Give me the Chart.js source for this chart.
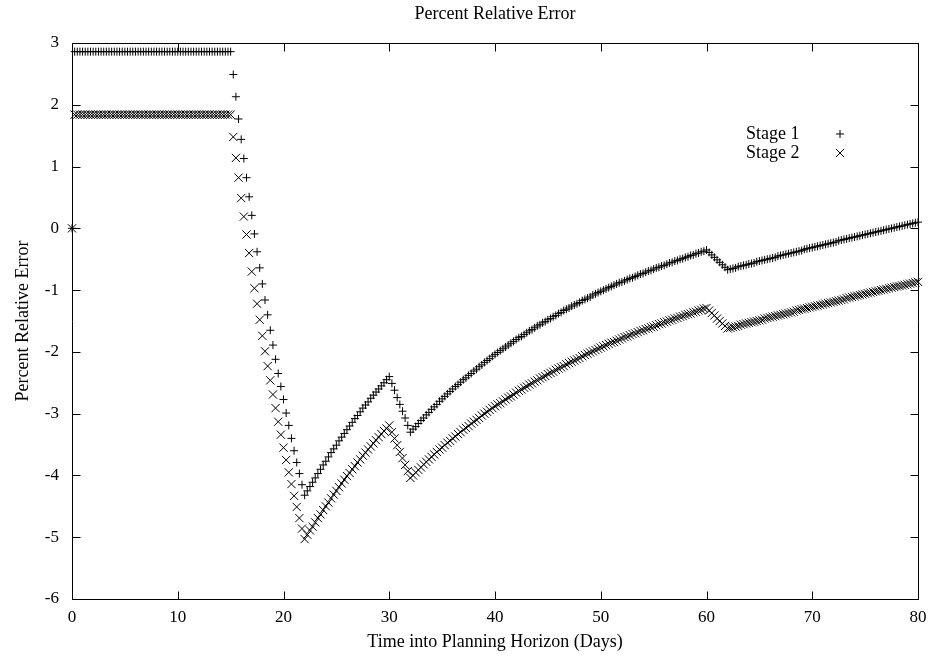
<!DOCTYPE html>
<html>
<head>
<meta charset="utf-8">
<title>Percent Relative Error</title>
<script src="https://cdn.jsdelivr.net/npm/chart.js@4.4.1/dist/chart.umd.min.js"></script>
<style>
    html, body { margin: 0; padding: 0; background: #fff; }
    canvas { display: block; }
</style>
</head>
<body>
<canvas id="chart" width="930" height="656"></canvas>
<script>
// Samples are taken every quarter of a day, from day 0 to day 80.
const stepDays = 0.25;

const seriesLabels = ['Stage 1', 'Stage 2'];
const xTickStep = 10;
const yTickStep = 1;

// Stage 1 (+ markers), percent relative error per sample
const stage1Error = [
    0,
    2.86, 2.86, 2.86, 2.86, 2.86, 2.86, 2.86, 2.86, 2.86, 2.86,
    2.86, 2.86, 2.86, 2.86, 2.86, 2.86, 2.86, 2.86, 2.86, 2.86,
    2.86, 2.86, 2.86, 2.86, 2.86, 2.86, 2.86, 2.86, 2.86, 2.86,
    2.86, 2.86, 2.86, 2.86, 2.86, 2.86, 2.86, 2.86, 2.86, 2.86,
    2.86, 2.86, 2.86, 2.86, 2.86, 2.86, 2.86, 2.86, 2.86, 2.86,
    2.86, 2.86, 2.86, 2.86, 2.86, 2.86, 2.86, 2.86, 2.86, 2.86,
    // day 15.25 - 22
    2.49, 2.13, 1.77, 1.44, 1.13, 0.82, 0.51, 0.21, -0.09, -0.38,
    -0.64, -0.90, -1.16, -1.40, -1.65, -1.89, -2.12, -2.35, -2.56, -2.77,
    -2.99, -3.19, -3.40, -3.60, -3.79, -3.97, -4.15, -4.32,
    // day 22.25 - 30
    -4.25, -4.18, -4.11, -4.04, -3.97, -3.90, -3.83, -3.77, -3.70, -3.63,
    -3.57, -3.51, -3.44, -3.38, -3.32, -3.26, -3.20, -3.14, -3.08, -3.03,
    -2.97, -2.91, -2.86, -2.81, -2.75, -2.70, -2.65, -2.60, -2.55, -2.50,
    -2.45, -2.40,
    // day 30.25 - 32
    -2.51, -2.62, -2.74, -2.85, -2.96, -3.07, -3.19, -3.30,
    // day 32.25 - 60
    -3.25, -3.21, -3.16, -3.11, -3.07, -3.02, -2.98, -2.93,
    -2.89, -2.85, -2.80, -2.76, -2.72, -2.68, -2.64, -2.60,
    -2.56, -2.53, -2.49, -2.45, -2.42, -2.38, -2.35, -2.31,
    -2.28, -2.24, -2.21, -2.17, -2.14, -2.11, -2.07, -2.04,
    -2.01, -1.98, -1.95, -1.92, -1.89, -1.86, -1.83, -1.80,
    -1.77, -1.75, -1.72, -1.69, -1.66, -1.64, -1.61, -1.58,
    -1.56, -1.53, -1.51, -1.48, -1.46, -1.43, -1.41, -1.38,
    -1.36, -1.33, -1.31, -1.29, -1.26, -1.24, -1.22, -1.20,
    -1.17, -1.15, -1.13, -1.11, -1.08, -1.06, -1.04, -1.02,
    -1.00, -0.98, -0.96, -0.94, -0.92, -0.90, -0.88, -0.87,
    -0.85, -0.83, -0.81, -0.80, -0.78, -0.76, -0.74, -0.73,
    -0.71, -0.69, -0.68, -0.66, -0.64, -0.63, -0.61, -0.60,
    -0.58, -0.56, -0.55, -0.53, -0.52, -0.50, -0.49, -0.47,
    -0.46, -0.44, -0.43, -0.41, -0.40, -0.38, -0.37, -0.35,
    // day 60.25 - 62
    -0.39, -0.43, -0.47, -0.51, -0.55, -0.59, -0.63, -0.67,
    // day 62.25 - 80
    -0.66, -0.65, -0.64, -0.62, -0.61, -0.60, -0.59, -0.58,
    -0.57, -0.56, -0.54, -0.53, -0.52, -0.51, -0.50, -0.49,
    -0.48, -0.47, -0.45, -0.44, -0.43, -0.42, -0.41, -0.40,
    -0.39, -0.38, -0.37, -0.36, -0.34, -0.33, -0.32, -0.31,
    -0.30, -0.29, -0.28, -0.27, -0.26, -0.25, -0.24, -0.23,
    -0.22, -0.20, -0.19, -0.18, -0.17, -0.16, -0.15, -0.14,
    -0.13, -0.12, -0.11, -0.10, -0.09, -0.08, -0.07, -0.06,
    -0.05, -0.04, -0.03, -0.02, -0.01, 0.00, 0.01, 0.02,
    0.03, 0.04, 0.05, 0.06, 0.07, 0.08, 0.09, 0.10,
];

// Stage 2 (x markers), percent relative error per sample
const stage2Error = [
    0,
    1.84, 1.84, 1.84, 1.84, 1.84, 1.84, 1.84, 1.84, 1.84, 1.84,
    1.84, 1.84, 1.84, 1.84, 1.84, 1.84, 1.84, 1.84, 1.84, 1.84,
    1.84, 1.84, 1.84, 1.84, 1.84, 1.84, 1.84, 1.84, 1.84, 1.84,
    1.84, 1.84, 1.84, 1.84, 1.84, 1.84, 1.84, 1.84, 1.84, 1.84,
    1.84, 1.84, 1.84, 1.84, 1.84, 1.84, 1.84, 1.84, 1.84, 1.84,
    1.84, 1.84, 1.84, 1.84, 1.84, 1.84, 1.84, 1.84, 1.84, 1.84,
    // day 15.25 - 22
    1.48, 1.14, 0.82, 0.49, 0.19, -0.10, -0.40, -0.70, -0.97, -1.22,
    -1.48, -1.74, -1.99, -2.23, -2.46, -2.69, -2.91, -3.13, -3.34, -3.55,
    -3.75, -3.95, -4.14, -4.33, -4.51, -4.69, -4.86, -5.03,
    // day 22.25 - 30
    -4.96, -4.89, -4.83, -4.76, -4.69, -4.63, -4.56, -4.50, -4.44, -4.37,
    -4.31, -4.25, -4.19, -4.13, -4.07, -4.01, -3.96, -3.90, -3.85, -3.79,
    -3.74, -3.68, -3.63, -3.58, -3.53, -3.48, -3.43, -3.38, -3.33, -3.28,
    -3.24, -3.19,
    // day 30.25 - 32
    -3.30, -3.40, -3.51, -3.62, -3.72, -3.83, -3.93, -4.04,
    // day 32.25 - 60
    -4.00, -3.95, -3.91, -3.87, -3.82, -3.78, -3.74, -3.70,
    -3.66, -3.62, -3.58, -3.55, -3.51, -3.47, -3.44, -3.40,
    -3.37, -3.33, -3.30, -3.26, -3.23, -3.20, -3.16, -3.13,
    -3.10, -3.07, -3.03, -3.00, -2.97, -2.94, -2.91, -2.88,
    -2.85, -2.83, -2.80, -2.77, -2.74, -2.72, -2.69, -2.66,
    -2.63, -2.61, -2.58, -2.56, -2.53, -2.51, -2.48, -2.46,
    -2.43, -2.41, -2.39, -2.36, -2.34, -2.32, -2.29, -2.27,
    -2.25, -2.23, -2.20, -2.18, -2.16, -2.14, -2.12, -2.10,
    -2.07, -2.05, -2.03, -2.01, -1.99, -1.97, -1.95, -1.93,
    -1.91, -1.89, -1.87, -1.85, -1.84, -1.82, -1.80, -1.78,
    -1.76, -1.75, -1.73, -1.71, -1.70, -1.68, -1.66, -1.65,
    -1.63, -1.62, -1.60, -1.59, -1.57, -1.55, -1.54, -1.52,
    -1.51, -1.49, -1.48, -1.46, -1.45, -1.43, -1.42, -1.40,
    -1.39, -1.38, -1.36, -1.35, -1.33, -1.32, -1.30, -1.29,
    // day 60.25 - 62
    -1.33, -1.37, -1.41, -1.46, -1.50, -1.54, -1.58, -1.62,
    // day 62.25 - 80
    -1.61, -1.60, -1.59, -1.58, -1.56, -1.55, -1.54, -1.53,
    -1.52, -1.51, -1.50, -1.49, -1.48, -1.46, -1.45, -1.44,
    -1.43, -1.42, -1.41, -1.40, -1.39, -1.38, -1.37, -1.36,
    -1.35, -1.33, -1.32, -1.31, -1.30, -1.29, -1.28, -1.27,
    -1.26, -1.25, -1.24, -1.23, -1.22, -1.21, -1.20, -1.19,
    -1.18, -1.17, -1.16, -1.15, -1.13, -1.12, -1.11, -1.10,
    -1.09, -1.08, -1.07, -1.06, -1.05, -1.04, -1.03, -1.02,
    -1.01, -1.00, -0.99, -0.98, -0.97, -0.96, -0.95, -0.94,
    -0.934, -0.925, -0.915, -0.905, -0.895, -0.885, -0.876, -0.866,
];

const serifFont = '\'Liberation Serif\', \'Times New Roman\', serif';

/**
 * Pair each value with its time into the horizon
 *
 * @param {Array} values Error values, one per sample
 * @return {Array} points [{x:, y:}, ...]
 */
function toPoints(values) {
    'use strict';
    return values.map((v, i) => ({x: i * stepDays, y: v}));
}

/**
 * gnuplot look: closed frame, inward mirrored tics, title over the plot
 * area and a key inside the top right corner with the sample after the text
 */
const frameAndKey = {
    id: 'frameAndKey',
    afterDatasetsDraw: function(chart, args, opts) {
        'use strict';
        const ctx = chart.ctx;
        const area = chart.chartArea;
        const xs = chart.scales.x;
        const ys = chart.scales.y;
        const left = Math.round(area.left) + 0.5;
        const right = Math.round(area.right) + 0.5;
        const top = Math.round(area.top) + 0.5;
        const bottom = Math.round(area.bottom) + 0.5;

        ctx.save();
        ctx.strokeStyle = '#000';
        ctx.lineWidth = 1;
        ctx.beginPath();
        ctx.rect(left, top, right - left, bottom - top);
        for (const tick of xs.ticks) {
            const px = Math.round(xs.getPixelForValue(tick.value)) + 0.5;
            ctx.moveTo(px, bottom);
            ctx.lineTo(px, bottom - opts.tickLength);
            ctx.moveTo(px, top);
            ctx.lineTo(px, top + opts.tickLength);
        }
        for (const tick of ys.ticks) {
            const py = Math.round(ys.getPixelForValue(tick.value)) + 0.5;
            ctx.moveTo(left, py);
            ctx.lineTo(left + opts.tickLength, py);
            ctx.moveTo(right, py);
            ctx.lineTo(right - opts.tickLength, py);
        }
        ctx.stroke();

        ctx.fillStyle = '#000';
        ctx.font = opts.fontSize + 'px ' + serifFont;
        ctx.textBaseline = 'middle';
        ctx.textAlign = 'center';
        ctx.fillText(opts.title, (area.left + area.right) / 2, opts.titleY);

        ctx.textAlign = 'left';
        chart.data.datasets.forEach((ds, i) => {
            const y = area.top + opts.keyTop + i * opts.keyRowHeight;
            ctx.fillText(ds.label, area.right - opts.keyTextOffset, y);
            Chart.helpers.drawPoint(ctx, {
                pointStyle: ds.pointStyle,
                radius: ds.pointRadius,
                rotation: 0,
                borderWidth: 1,
            }, area.right - opts.keySampleOffset, y);
        });
        ctx.restore();
    },
};

const ctx = document.getElementById('chart').getContext('2d');

new Chart(ctx, {
    type: 'scatter',
    data: {
        datasets: [
            {
                label: seriesLabels[0],
                data: toPoints(stage1Error),
                pointStyle: 'cross',
                pointRadius: 4,
                borderWidth: 1,
                borderColor: '#000',
                backgroundColor: '#000',
                clip: false,
            },
            {
                label: seriesLabels[1],
                data: toPoints(stage2Error),
                pointStyle: 'crossRot',
                pointRadius: 5.8,
                borderWidth: 1,
                borderColor: '#000',
                backgroundColor: '#000',
                clip: false,
            },
        ],
    },
    options: {
        responsive: false,
        animation: false,
        events: [],
        layout: {
            padding: {top: 43, right: 12, bottom: 0, left: 0},
        },
        plugins: {
            legend: {display: false},
            tooltip: {enabled: false},
            title: {display: false},
            frameAndKey: {
                title: 'Percent Relative Error',
                titleY: 14,
                fontSize: 18,
                tickLength: 8,
                keyTop: 91,
                keyRowHeight: 19,
                keyTextOffset: 172,
                keySampleOffset: 78,
            },
        },
        scales: {
            x: {
                type: 'linear',
                min: 0,
                max: 80,
                grid: {display: false, drawTicks: false},
                border: {display: false},
                ticks: {
                    stepSize: xTickStep,
                    padding: 8,
                    maxRotation: 0,
                    color: '#000',
                    font: {family: serifFont, size: 17},
                },
                title: {
                    display: true,
                    text: 'Time into Planning Horizon (Days)',
                    color: '#000',
                    font: {family: serifFont, size: 18},
                    padding: {top: 0, bottom: 3},
                },
                afterFit: function(scale) {
                    scale.height = 57;
                    // end labels may hang over the frame, as gnuplot lets them
                    scale.paddingLeft = 0;
                    scale.paddingRight = 0;
                },
            },
            y: {
                type: 'linear',
                min: -6,
                max: 3,
                grid: {display: false, drawTicks: false},
                border: {display: false},
                ticks: {
                    stepSize: yTickStep,
                    padding: 13,
                    color: '#000',
                    font: {family: serifFont, size: 17},
                },
                title: {
                    display: true,
                    text: 'Percent Relative Error',
                    color: '#000',
                    font: {family: serifFont, size: 18},
                    padding: {top: 12, bottom: 0},
                },
                afterFit: function(scale) {
                    scale.width = 72;
                },
            },
        },
    },
    plugins: [frameAndKey],
});
</script>
</body>
</html>
